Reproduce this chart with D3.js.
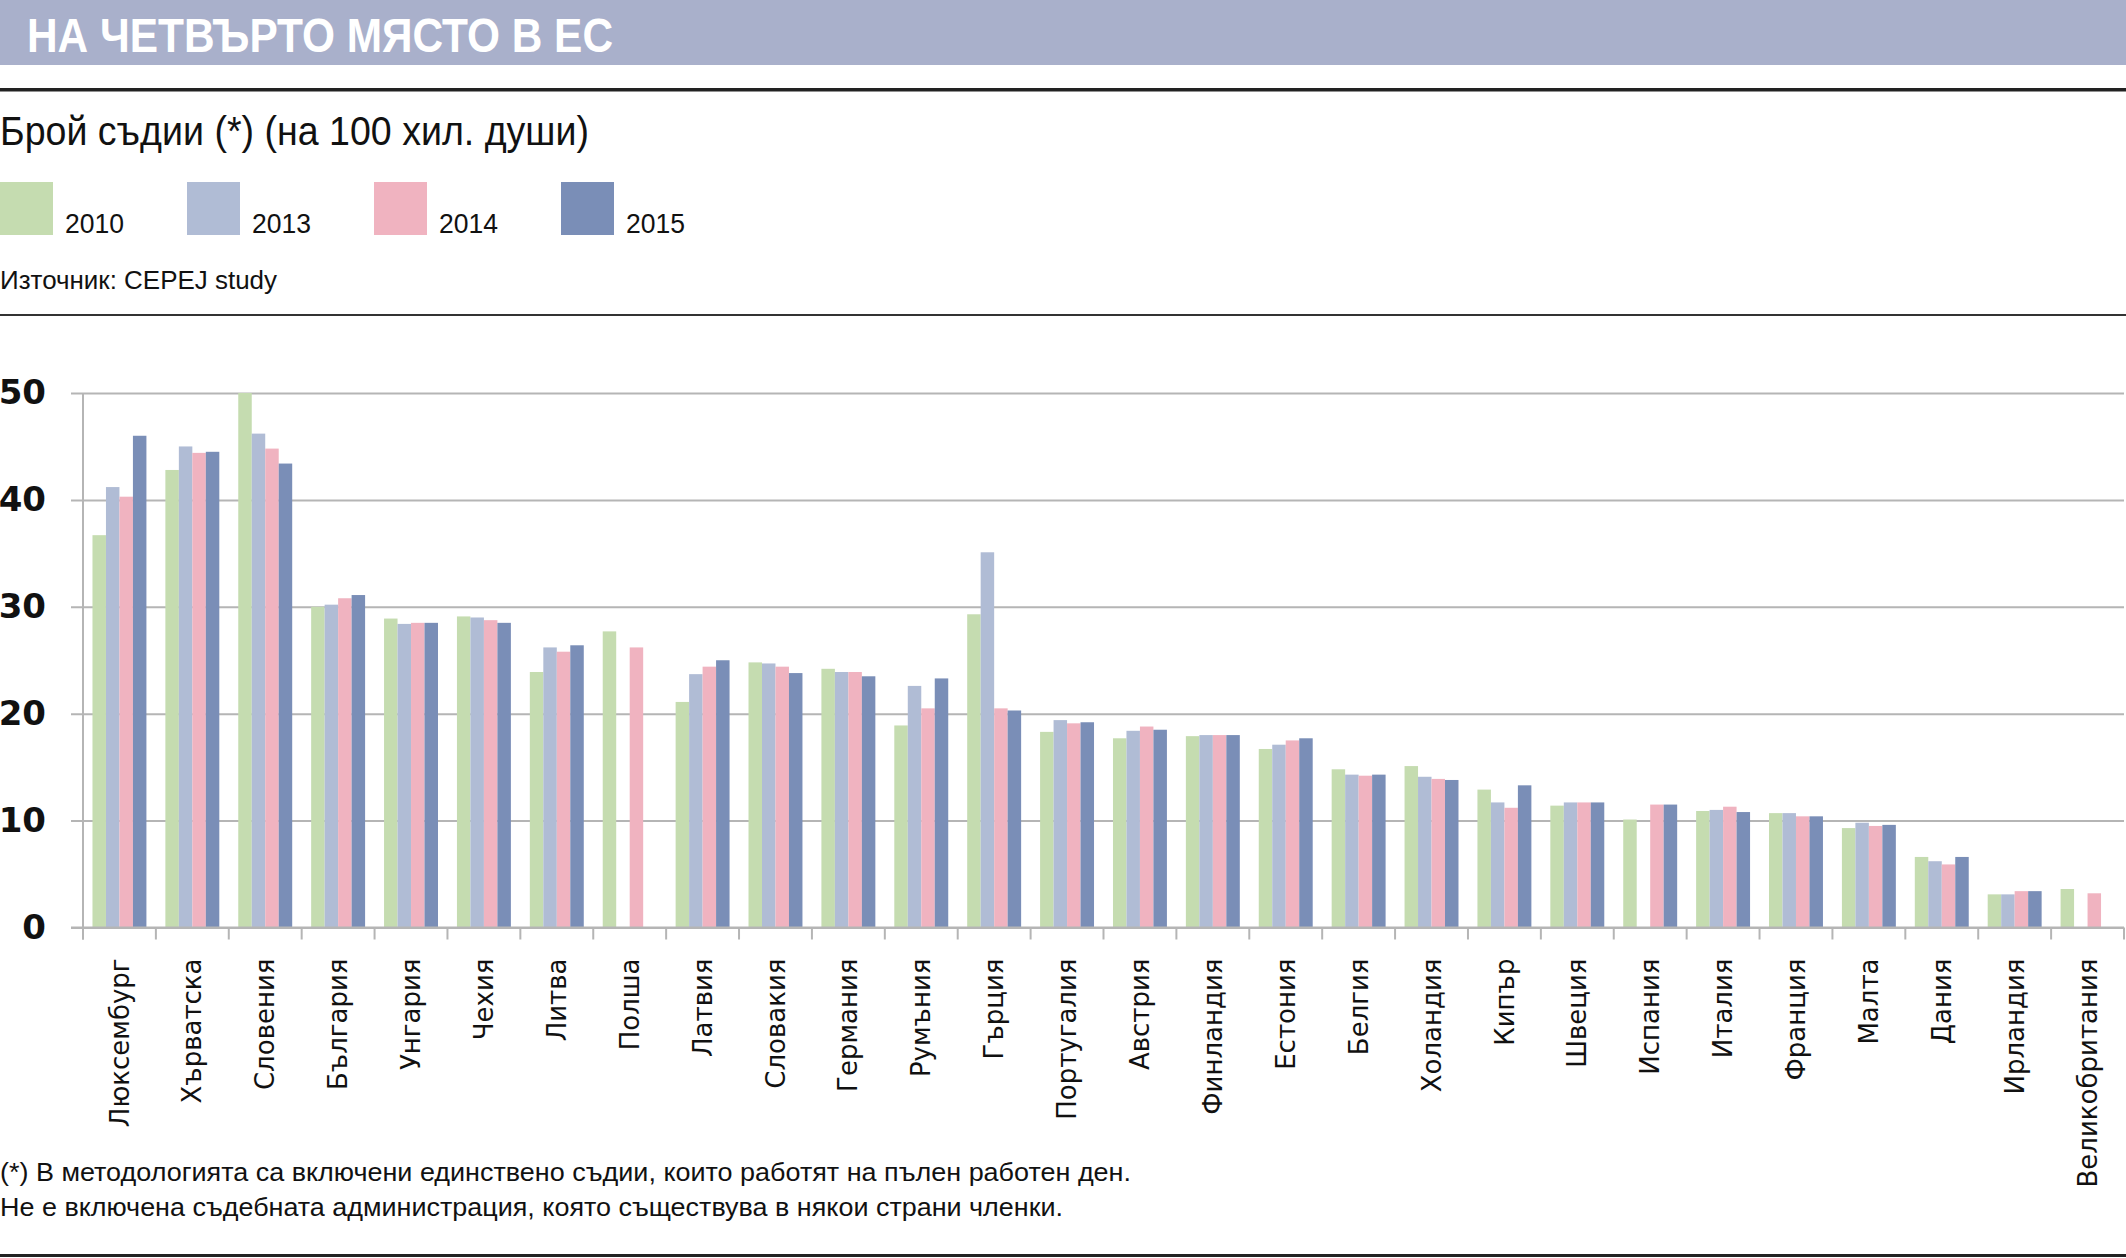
<!DOCTYPE html>
<html>
<head>
<meta charset="utf-8">
<script src="https://cdn.jsdelivr.net/npm/d3@7"></script>
<style>
  body { margin: 0; background: #fff; }
  svg { display: block; }
  .narrow { font-family: "Liberation Sans Narrow", "Liberation Sans", sans-serif; }
</style>
</head>
<body>
<div id="chart"></div>
<script>
// data
var countries = ["Люксембург", "Хърватска", "Словения", "България", "Унгария", "Чехия", "Литва", "Полша",
    "Латвия", "Словакия", "Германия", "Румъния", "Гърция", "Португалия", "Австрия", "Финландия",
    "Естония", "Белгия", "Холандия", "Кипър", "Швеция", "Испания", "Италия", "Франция",
    "Малта", "Дания", "Ирландия", "Великобритания"];
var years = ["2010", "2013", "2014", "2015"];
var v2010 = [36.7, 42.8, 50.0, 30.0, 28.9, 29.1, 23.9, 27.7, 21.1, 24.8, 24.2, 18.9, 29.3, 18.3,
    17.7, 17.9, 16.7, 14.8, 15.1, 12.9, 11.4, 10.1, 10.9, 10.7, 9.3, 6.6, 3.1, 3.6];
var v2013 = [41.2, 45.0, 46.2, 30.2, 28.4, 29.0, 26.2, null, 23.7, 24.7, 23.9, 22.6, 35.1, 19.4,
    18.4, 18.0, 17.1, 14.3, 14.1, 11.7, 11.7, null, 11.0, 10.7, 9.8, 6.2, 3.1, null];
var v2014 = [40.3, 44.4, 44.8, 30.8, 28.5, 28.75, 25.8, 26.2, 24.4, 24.4, 23.9, 20.5, 20.5, 19.1,
    18.8, 18.0, 17.5, 14.2, 13.9, 11.2, 11.7, 11.5, 11.3, 10.4, 9.5, 5.9, 3.4, 3.2];
var v2015 = [46.0, 44.5, 43.4, 31.1, 28.5, 28.5, 26.4, null, 25.0, 23.8, 23.5, 23.3, 20.3, 19.2,
    18.5, 18.0, 17.7, 14.3, 13.8, 13.3, 11.7, 11.5, 10.8, 10.4, 9.6, 6.6, 3.4, null];
var yTicks = [0, 10, 20, 30, 40, 50];
var colors = ["#c5dcb0", "#b0bcd5", "#f0b3c0", "#7a8eb7"];

var W = 2126, H = 1258;
var left = 83, right = 2124, y0px = 927.5, y50px = 393;

var svg = d3.select("#chart").append("svg").attr("width", W).attr("height", H);

// header
svg.append("rect").attr("x", 0).attr("y", 0).attr("width", W).attr("height", 65).attr("fill", "#a9b0cb");
svg.append("text").attr("class", "narrow")
    .attr("x", 27).attr("y", 52)
    .attr("font-size", 49).attr("font-weight", "bold").attr("fill", "#fff")
    .attr("textLength", 586).attr("lengthAdjust", "spacingAndGlyphs")
    .text("НА ЧЕТВЪРТО МЯСТО В ЕС");
svg.append("rect").attr("x", 0).attr("y", 88).attr("width", W).attr("height", 3.5).attr("fill", "#222");

svg.append("text").attr("class", "narrow")
    .attr("x", 0).attr("y", 145)
    .attr("font-size", 40).attr("fill", "#111")
    .attr("textLength", 589).attr("lengthAdjust", "spacingAndGlyphs")
    .text("Брой съдии  (*) (на 100 хил. души)");

// legend
var legend = svg.selectAll(".leg").data(years).enter().append("g")
    .attr("class", "leg")
    .attr("transform", function (d, i) { return "translate(" + (i * 187) + ",182)"; });
legend.append("rect").attr("width", 53).attr("height", 53)
    .attr("fill", function (d, i) { return colors[i]; });
legend.append("text").attr("class", "narrow")
    .attr("x", 65).attr("y", 51)
    .attr("font-size", 28).attr("fill", "#111")
    .attr("textLength", 59).attr("lengthAdjust", "spacingAndGlyphs")
    .text(function (d) { return d; });

svg.append("text").attr("class", "narrow")
    .attr("x", 0).attr("y", 289)
    .attr("font-size", 25).attr("fill", "#111")
    .attr("textLength", 277).attr("lengthAdjust", "spacingAndGlyphs")
    .text("Източник: CEPEJ study");
svg.append("rect").attr("x", 0).attr("y", 314).attr("width", W).attr("height", 2).attr("fill", "#333");

// scales
var x0 = d3.scaleBand().domain(countries).range([left, right]).padding(0);
var bw = x0.bandwidth();
var x1 = d3.scaleBand().domain(years).range([bw * 0.13, bw * 0.87]).padding(0);
var y = d3.scaleLinear().domain([0, 50]).range([y0px, y50px]);

// gridlines and y labels
var yAxis = d3.axisLeft(y).tickValues(yTicks).tickSize(-(right - 71)).tickPadding(25);
var gy = svg.append("g").attr("transform", "translate(71,0)").call(yAxis);
gy.select(".domain").remove();
gy.selectAll("line").attr("stroke", "#b5b5b5").attr("stroke-width", 2);
gy.selectAll("text")
    .attr("font-family", "DejaVu Sans, Verdana, sans-serif")
    .attr("font-weight", "bold").attr("font-size", 34).attr("fill", "#111");

// bars
var series = [v2010, v2013, v2014, v2015];
var rows = countries.map(function (c, i) {
    return years.map(function (yr, k) { return { c: c, yr: yr, k: k, v: series[k][i] }; });
});
var groups = svg.selectAll(".grp").data(rows).enter().append("g")
    .attr("class", "grp")
    .attr("transform", function (d) { return "translate(" + x0(d[0].c) + ",0)"; });
groups.selectAll("rect")
    .data(function (d) { return d.filter(function (e) { return e.v != null; }); })
    .enter().append("rect")
    .attr("x", function (d) { return x1(d.yr); })
    .attr("width", x1.bandwidth())
    .attr("y", function (d) { return y(d.v); })
    .attr("height", function (d) { return y(0) - y(d.v); })
    .attr("fill", function (d) { return colors[d.k]; });

// axes lines
svg.append("line").attr("x1", left).attr("x2", left).attr("y1", y50px).attr("y2", y0px + 12)
    .attr("stroke", "#b5b5b5").attr("stroke-width", 2);
svg.append("line").attr("x1", 71).attr("x2", right).attr("y1", y0px).attr("y2", y0px)
    .attr("stroke", "#b5b5b5").attr("stroke-width", 2);
var bounds = countries.map(function (c) { return x0(c); }).concat([right]);
svg.selectAll(".xtick").data(bounds).enter().append("line")
    .attr("class", "xtick")
    .attr("x1", function (d) { return d; }).attr("x2", function (d) { return d; })
    .attr("y1", y0px).attr("y2", y0px + 12)
    .attr("stroke", "#b5b5b5").attr("stroke-width", 2);

// category labels
var xAxis = d3.axisBottom(x0).tickSize(0);
var gx = svg.append("g").attr("transform", "translate(0," + y0px + ")").call(xAxis);
gx.select(".domain").remove();
gx.selectAll("text")
    .attr("font-family", "DejaVu Sans, Verdana, sans-serif")
    .attr("font-size", 26).attr("fill", "#111")
    .attr("transform", "rotate(-90)")
    .attr("text-anchor", "end")
    .attr("x", -31).attr("y", 0).attr("dy", "0.35em");

// footnote
svg.append("text").attr("class", "narrow")
    .attr("x", 0).attr("y", 1181)
    .attr("font-size", 25).attr("fill", "#111")
    .attr("textLength", 1131).attr("lengthAdjust", "spacingAndGlyphs")
    .text("(*) В методологията са включени единствено съдии, които работят на пълен работен ден.");
svg.append("text").attr("class", "narrow")
    .attr("x", 0).attr("y", 1216)
    .attr("font-size", 25).attr("fill", "#111")
    .attr("textLength", 1063).attr("lengthAdjust", "spacingAndGlyphs")
    .text("Не е включена съдебната администрация, която съществува в някои страни членки.");
svg.append("rect").attr("x", 0).attr("y", 1254).attr("width", W).attr("height", 3).attr("fill", "#222");
</script>
</body>
</html>
